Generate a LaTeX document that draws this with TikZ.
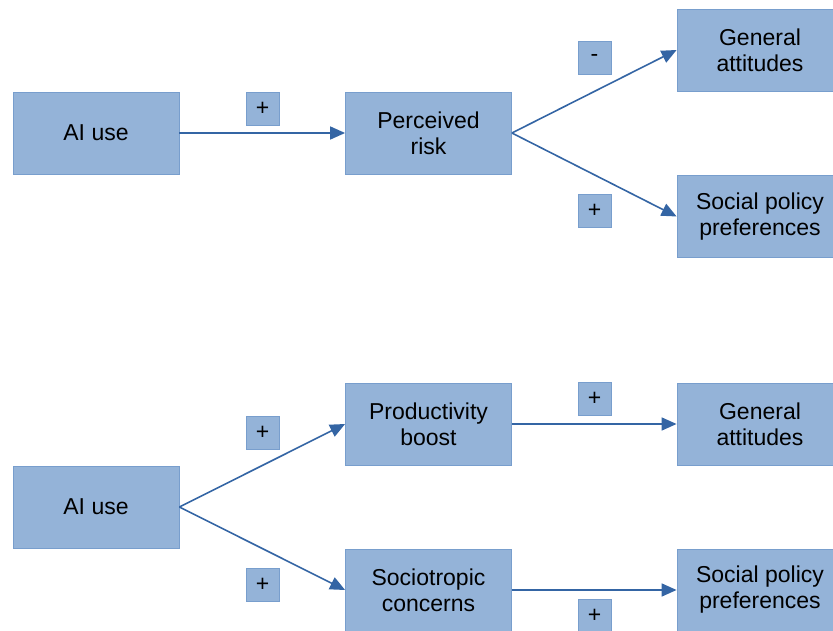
\documentclass[tikz,border=0pt]{standalone}
\usepackage{fontspec}
\setmainfont{Liberation Sans}
\usetikzlibrary{arrows.meta}
\definecolor{boxfill}{RGB}{148,179,216}
\definecolor{boxline}{RGB}{120,158,205}
\definecolor{arrowblue}{RGB}{52,101,164}
\begin{document}
\begin{tikzpicture}[
    x=1pt, y=-1pt,
    font=\fontsize{23}{26}\selectfont,
    var/.style={draw=boxline, fill=boxfill, line width=0.8pt, inner sep=0pt, minimum width=166pt, minimum height=82pt, align=center},
    sign/.style={draw=boxline, fill=boxfill, line width=0.8pt, inner sep=0pt, minimum width=33pt, minimum height=33pt},
    path/.style={draw=arrowblue, line width=1.6pt, -{Triangle[length=15pt, width=13pt]}}
]
\clip (0,0) rectangle (833,631);
% upper model
\node[var] (aiA) at (96,133) {AI use};
\node[var] (risk) at (428.5,133) {Perceived\\risk};
\node[var] (genA) at (760,50) {General\\attitudes};
\node[var] (polA) at (760,216.5) {Social policy\\preferences};
\node[sign] (sA1) at (262.5,108.5) {+};
\node[sign] (sA2) at (594.5,58) {-};
\node[sign] (sA3) at (594.5,210.5) {+};
\draw[path] (aiA.east) -- (risk.west);
\draw[path] (risk.east) -- (genA.west);
\draw[path] (risk.east) -- (polA.west);
% lower model
\node[var] (aiB) at (96,507) {AI use};
\node[var] (prod) at (428.5,424) {Productivity\\boost};
\node[var] (socio) at (428.5,590) {Sociotropic\\concerns};
\node[var] (genB) at (760,424) {General\\attitudes};
\node[var] (polB) at (760,590) {Social policy\\preferences};
\node[sign] (sB1) at (262.5,432.5) {+};
\node[sign] (sB2) at (262.5,584.5) {+};
\node[sign] (sB3) at (594.5,399) {+};
\node[sign] (sB4) at (594.5,615.5) {+};
\draw[path] (aiB.east) -- (prod.west);
\draw[path] (aiB.east) -- (socio.west);
\draw[path] (prod.east) -- (genB.west);
\draw[path] (socio.east) -- (polB.west);
\end{tikzpicture}
\end{document}
